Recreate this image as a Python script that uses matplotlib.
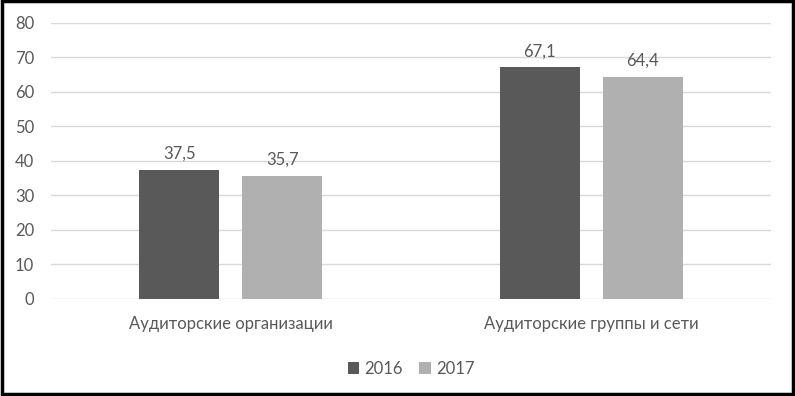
import matplotlib
matplotlib.use("Agg")
import matplotlib.pyplot as plt
import numpy as np
from matplotlib.patches import Rectangle

categories = ["Аудиторские организации", "Аудиторские группы и сети"]
years = ["2016", "2017"]
values_2016 = [37.5, 67.1]
values_2017 = [35.7, 64.4]

dark = "#595959"
light = "#b0b0b0"
text_col = "#595959"

plt.rcParams["font.family"] = ["Lato", "DejaVu Sans"]

fig = plt.figure(figsize=(7.95, 3.96), dpi=100)
ax = fig.add_axes([0.064, 0.245, 0.906, 0.697])

x = np.arange(len(categories))
w = 0.222
off = 0.143
b1 = ax.bar(x - off, values_2016, w, color=dark, label=years[0], zorder=3)
b2 = ax.bar(x + off, values_2017, w, color=light, label=years[1], zorder=3)

for bars in (b1, b2):
    for r in bars:
        ax.annotate(f"{r.get_height():.1f}".replace(".", ","),
                    (r.get_x() + r.get_width() / 2, r.get_height()),
                    xytext=(0, 6), textcoords="offset points",
                    ha="center", va="bottom", fontsize=12, color=text_col)

ax.set_xlim(-0.5, 1.5)
ax.set_ylim(0, 80)
ax.set_yticks(range(0, 81, 10))
ax.set_xticks(x)
ax.set_xticklabels(categories)
ax.grid(axis="y", color="#d9d9d9", linewidth=1, zorder=0)
for s in ax.spines.values():
    s.set_visible(False)
ax.tick_params(axis="both", length=0, labelsize=12, colors=text_col)
ax.tick_params(axis="y", pad=12)
ax.tick_params(axis="x", pad=12)

leg = ax.legend(loc="upper center", bbox_to_anchor=(0.5, -0.17), ncol=2,
                frameon=False, fontsize=12, handlelength=0.7, handleheight=0.7,
                handletextpad=0.3, columnspacing=1.0)
for t in leg.get_texts():
    t.set_color(text_col)

fig.patches.append(Rectangle((0.002, 0.004), 0.996, 0.993, transform=fig.transFigure,
                             fill=False, edgecolor="black", linewidth=2.5))

fig.savefig("out.png", dpi=100)
